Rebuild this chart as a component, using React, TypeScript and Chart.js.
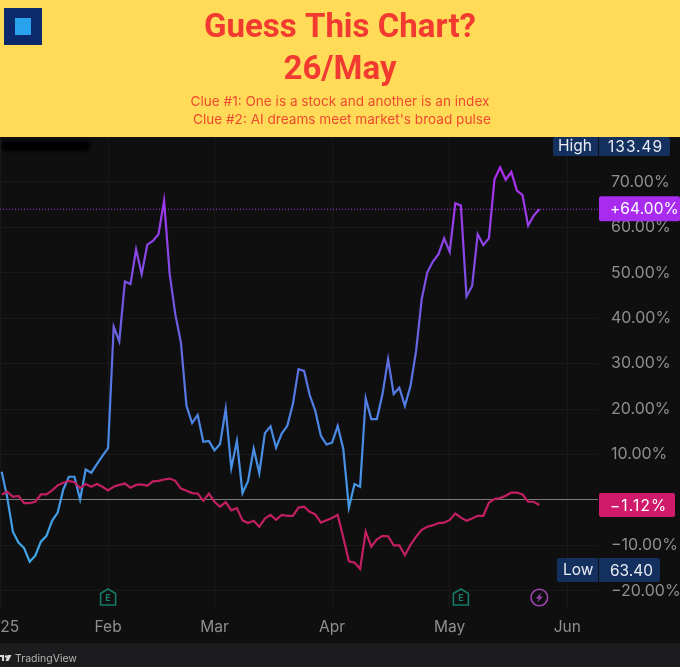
import React, { useEffect, useRef } from "react";
import { Chart, registerables } from "chart.js";

Chart.register(...registerables);

const stockReturn = [
  6.2, 0.5, -7, -9.4, -10.6, -13.6, -12.3, -9.2, -7.9, -4.6, -2.8, 2.3, 5.1, 5.1, 0.1, 6.7, 6, 7.9, 9.7, 11.4,
  38.1, 34.9, 48.1, 47.5, 55.2, 49.7, 56.2, 57, 58.5, 65.9, 49.7, 40.9, 34.7, 20.7, 16.9, 18.7, 12.8, 13, 10.9, 12.3,
  20, 7, 13, 1.5, 4.2, 11.3, 5.9, 14.7, 16.2, 11.5, 14.6, 16.3, 21.1, 28.8, 28.4, 23.1, 19.6, 14.1, 12.2, 12.6,
  16.3, 11.2, -1.7, 3.5, 2.9, 22.4, 17.8, 17.8, 23.3, 31, 23.3, 24.7, 20.7, 25.1, 32.8, 44.2, 50.1, 52.5, 54.1, 57.6,
  54.6, 65.3, 64.8, 44.8, 47.1, 58.5, 56.1, 57.6, 70.6, 73.2, 70.5, 72.2, 68.1, 67.1, 60.4, 62.6, 64,
];
const indexReturn = [
  1.2, 1.8, 0.7, 0.9, -0.7, -0.7, -0.4, 1.2, 1.2, 2.1, 3.2, 3.8, 4.2, 3.9, 2.6, 3.5, 2.9, 3.5, 2.9, 2.1,
  2.9, 3.3, 3.6, 2.7, 3.3, 3.4, 3.1, 4.1, 4.2, 4.5, 4.7, 4.2, 2.5, 2, 1.5, 1.4, -0.2, 1.4, -0.4, -1.5,
  -0.5, -2.3, -1.8, -4.5, -5.1, -4.6, -5.9, -4.1, -3.3, -4.4, -3.3, -3.5, -3.5, -1.7, -1.5, -2.6, -3.2, -5, -4.5, -4,
  -3.3, -8.3, -13.5, -13.8, -15.2, -7, -10.3, -8.7, -7.9, -8, -10, -10, -12.2, -9.9, -8.1, -6.6, -5.9, -5.6, -5.1, -5,
  -4.4, -3, -3.9, -4.6, -4.1, -3.5, -3.5, -0.6, 0.2, 0.4, 0.9, 1.6, 1.6, 1.2, -0.4, -0.4, -1.12,
];
const tradingDays = stockReturn.map((_, i) => i);
const monthLabels = ["2025", "Feb", "Mar", "Apr", "May", "Jun"];
const monthDayIndex = [-0.3, 19, 38, 59, 80, 101];
const percentTicks = [-20, -10, 0, 10, 20, 30, 40, 50, 60, 70];
const earningsDays = [19, 82];
const dividendDays = [96];
const titleLines = ["Guess This Chart?", "26/May"];
const clueLines = ["Clue #1: One is a stock and another is an index", " Clue #2: AI dreams meet market's broad pulse"];
const highLabel = ["High", "133.49"];
const lowLabel = ["Low", "63.40"];

const FONT = "Inter, 'Noto Sans', sans-serif";
const BG = "#0f0f10";

function box(ctx: CanvasRenderingContext2D, x: number, y: number, w: number, h: number, c: string, r = 0) {
  ctx.fillStyle = c;
  ctx.beginPath();
  ctx.roundRect(x, y, w, h, r);
  ctx.fill();
}

function label(ctx: any, t: string, x: number, y: number, c = "#e8ecf4", size = 15.5, spacing = 0) {
  ctx.fillStyle = c;
  ctx.font = `${size}px ${FONT}`;
  ctx.letterSpacing = `${spacing}px`;
  ctx.textAlign = "left";
  ctx.textBaseline = "middle";
  ctx.fillText(t, x, y);
  ctx.letterSpacing = "0px";
}

const backdrop = {
  id: "backdrop",
  beforeDraw(chart: any) {
    const { ctx, width } = chart;
    ctx.save();
    box(ctx, 0, 0, width, 137, "#ffdb58");
    box(ctx, 0, 137, width, 506, BG);
    box(ctx, 0, 643, width, 24, "#1c1c1e");
    box(ctx, 4, 8, 38, 37, "#0b2a6b");
    box(ctx, 15, 18, 16, 17, "#2aa3ee");
    ctx.filter = "blur(1.5px)";
    box(ctx, 2, 141, 88, 10, "#000", 4);
    ctx.filter = "none";
    ctx.restore();
  },
};

const overlays = {
  id: "overlays",
  afterDraw(chart: any) {
    const { ctx, scales, chartArea } = chart;
    const y = scales.y;
    const x = scales.x;
    ctx.save();
    const lastStock = stockReturn[stockReturn.length - 1];
    const lastIndex = indexReturn[indexReturn.length - 1];
    const yStock = y.getPixelForValue(lastStock);
    const yIndex = y.getPixelForValue(lastIndex);

    ctx.strokeStyle = "#b030f0";
    ctx.lineWidth = 1;
    ctx.setLineDash([1, 2]);
    ctx.beginPath();
    ctx.moveTo(chartArea.left, yStock);
    ctx.lineTo(chartArea.right, yStock);
    ctx.stroke();
    ctx.setLineDash([]);

    box(ctx, 599, yStock - 13, 81, 25, "#a92bf0", 2);
    label(ctx, `+${lastStock.toFixed(2)}%`, 610, yStock + 0.5, "#ffffff", 15.5, 0.1);
    box(ctx, 599, yIndex - 12, 76, 24, "#d01a6b", 2);
    label(ctx, `\u2212${Math.abs(lastIndex).toFixed(2)}%`, 610, yIndex + 1, "#ffffff", 15.5, 1.1);

    box(ctx, 553, 137, 117, 19, "#14305f", 2);
    box(ctx, 598, 137, 1, 19, BG);
    label(ctx, highLabel[0], 558, 146);
    label(ctx, highLabel[1], 608, 147, "#e8ecf4", 15.5, 1);

    box(ctx, 557, 558, 103, 24, "#14305f", 2);
    box(ctx, 598, 558, 1, 24, BG);
    label(ctx, lowLabel[0], 563, 570);
    label(ctx, lowLabel[1], 610, 571);

    const flagY = 597.5;
    ctx.lineWidth = 1.6;
    ctx.strokeStyle = "#157a68";
    for (const d of earningsDays) {
      const cx = x.getPixelForValue(d);
      ctx.beginPath();
      ctx.moveTo(cx - 7.5, flagY - 4);
      ctx.lineTo(cx, flagY - 8.5);
      ctx.lineTo(cx + 7.5, flagY - 4);
      ctx.lineTo(cx + 7.5, flagY + 7.5);
      ctx.lineTo(cx - 7.5, flagY + 7.5);
      ctx.closePath();
      ctx.stroke();
      ctx.fillStyle = "#157a68";
      ctx.font = `bold 9px ${FONT}`;
      ctx.textAlign = "center";
      ctx.textBaseline = "middle";
      ctx.fillText("E", cx, flagY + 0.5);
    }
    ctx.strokeStyle = "#9c44ad";
    ctx.fillStyle = "#9c44ad";
    for (const d of dividendDays) {
      const cx = x.getPixelForValue(d);
      ctx.beginPath();
      ctx.arc(cx, flagY, 8.3, 0, Math.PI * 2);
      ctx.stroke();
      ctx.beginPath();
      ctx.moveTo(cx + 2, flagY - 5);
      ctx.lineTo(cx - 3.5, flagY + 1);
      ctx.lineTo(cx - 0.5, flagY + 1);
      ctx.lineTo(cx - 2, flagY + 5);
      ctx.lineTo(cx + 3.5, flagY - 1);
      ctx.lineTo(cx + 0.5, flagY - 1);
      ctx.closePath();
      ctx.fill();
    }

    ctx.fillStyle = "#d8d8d8";
    ctx.fillRect(0, 655, 4, 2);
    ctx.fillRect(2, 655, 2, 6);
    ctx.beginPath();
    ctx.arc(6, 656.5, 1.2, 0, Math.PI * 2);
    ctx.fill();
    ctx.beginPath();
    ctx.moveTo(7.5, 655);
    ctx.lineTo(11.5, 655);
    ctx.lineTo(8.5, 661);
    ctx.lineTo(5.5, 661);
    ctx.closePath();
    ctx.fill();
    label(ctx, "TradingView", 15, 658.5, "#b4b4b4", 10.5);
    ctx.restore();
  },
};

export default function App() {
  const ref = useRef<HTMLCanvasElement>(null);
  useEffect(() => {
    const chart = new Chart(ref.current as HTMLCanvasElement, {
      type: "line",
      data: {
        labels: tradingDays,
        datasets: [
          {
            label: "Index",
            data: indexReturn,
            borderColor: "#c21f62",
            borderWidth: 2.2,
            pointRadius: 0,
            tension: 0,
          },
          {
            label: "Stock",
            data: stockReturn,
            borderWidth: 2.2,
            pointRadius: 0,
            tension: 0,
            borderColor: (c: any) => {
              const area = c.chart.chartArea;
              if (!area) return "#6a6ae0";
              const s = c.chart.scales.y;
              const g = c.chart.ctx.createLinearGradient(0, s.getPixelForValue(-14), 0, s.getPixelForValue(74));
              g.addColorStop(0, "#3fa9e6");
              g.addColorStop(0.35, "#4a86e4");
              g.addColorStop(0.65, "#7456e2");
              g.addColorStop(1, "#b02cf0");
              return g;
            },
          },
        ],
      },
      options: {
        responsive: false,
        animation: false,
        layout: { padding: 0 },
        plugins: {
          legend: { display: false },
          tooltip: { enabled: false },
          title: {
            display: true,
            text: titleLines,
            color: "#f23a30",
            font: { family: "Roboto, sans-serif", size: 33, weight: "bold", lineHeight: 1.273 },
            padding: { top: 8, bottom: 1 },
          },
          subtitle: {
            display: true,
            text: clueLines,
            color: "#ee4a30",
            font: { family: "Inter, sans-serif", size: 13.6, weight: "normal", lineHeight: 1.324 },
            padding: { top: 0, bottom: 8 },
          },
        },
        scales: {
          x: {
            type: "linear",
            min: -0.3,
            max: 106.48,
            border: { display: false },
            grid: { color: "#19191b", drawTicks: false },
            afterBuildTicks: (s: any) => {
              s.ticks = monthDayIndex.map((value) => ({ value }));
            },
            afterFit: (s: any) => {
              s.height = 59;
              s.paddingLeft = 0;
              s.paddingRight = 0;
            },
            ticks: {
              autoSkip: false,
              maxRotation: 0,
              padding: 10,
              color: "#8f8f8f",
              font: { family: FONT, size: 15.5 },
              callback: (v: any) => monthLabels[monthDayIndex.indexOf(Number(v))] ?? "",
            },
          },
          y: {
            position: "right",
            min: -23.8,
            max: 79.9,
            border: { display: false },
            grid: {
              drawTicks: false,
              color: (c: any) => (c.tick && c.tick.value === 0 ? "#7a7a7a" : "#19191b"),
            },
            afterBuildTicks: (s: any) => {
              s.ticks = percentTicks.map((value) => ({ value }));
            },
            afterFit: (s: any) => {
              s.width = 82;
              s.paddingTop = 0;
              s.paddingBottom = 0;
            },
            ticks: {
              padding: 13,
              color: "#8f8f8f",
              font: { family: FONT, size: 16 },
              callback: (v: any) => {
                const n = Number(v);
                if (n === 0) return "";
                return `${n < 0 ? "\u2212" : ""}${Math.abs(n).toFixed(2)}%`;
              },
            },
          },
        },
      },
      plugins: [backdrop, overlays],
    } as any);
    return () => chart.destroy();
  }, []);
  return (
    <canvas
      ref={ref}
      width={680}
      height={667}
      style={{ position: "absolute", left: 0, top: 0, width: 680, height: 667, display: "block" }}
    />
  );
}
